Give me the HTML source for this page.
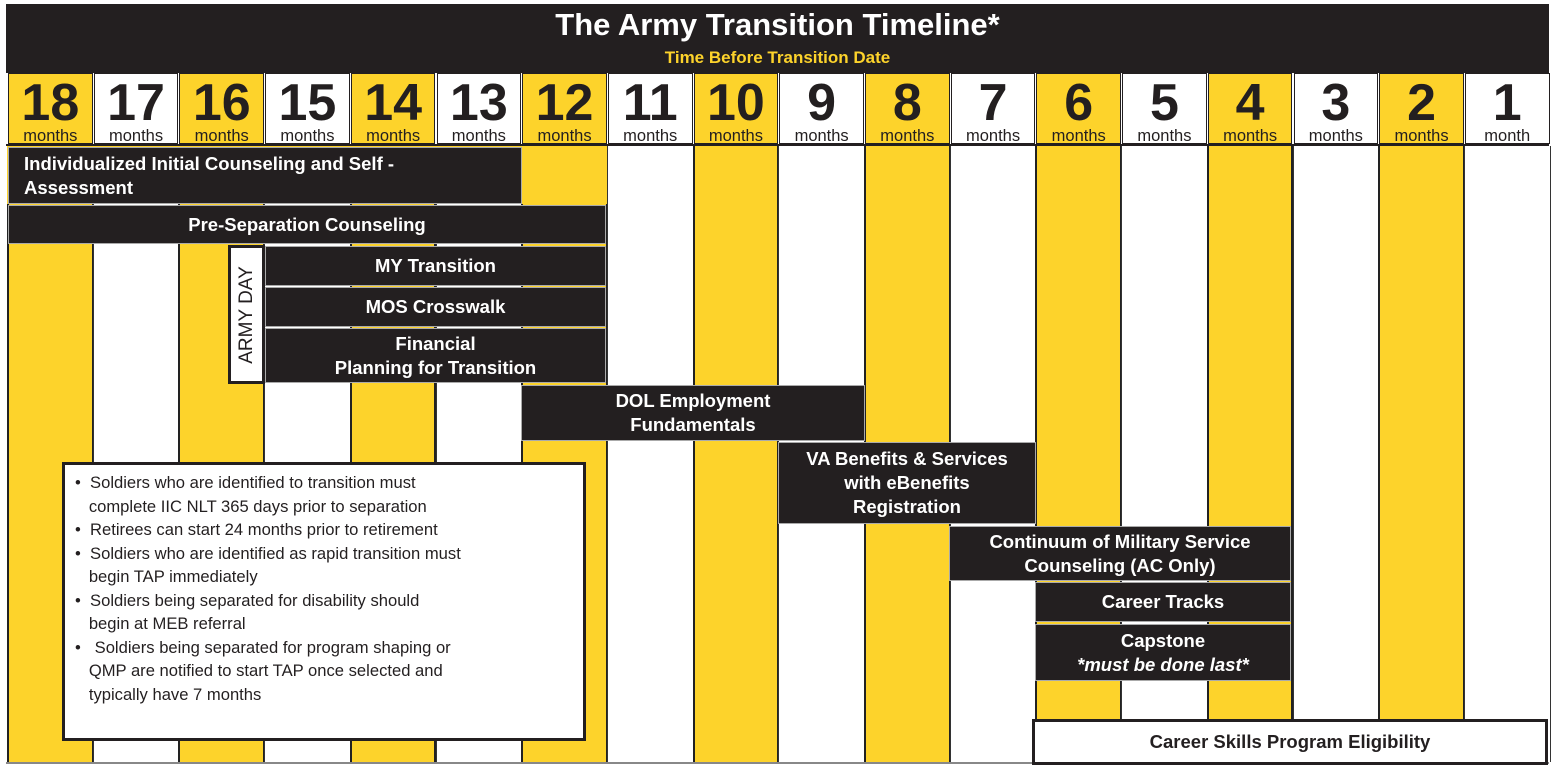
<!DOCTYPE html>
<html><head><meta charset="utf-8"><style>
body{margin:0;width:1559px;height:771px;background:#fff;position:relative;overflow:hidden;font-family:"Liberation Sans",sans-serif}
.a{position:absolute;box-sizing:border-box}
.col{position:absolute;top:146px;height:616px;box-sizing:border-box;border-left:1px solid #333;border-right:1px solid #333}
.y{background:#fdd32b;border-left:2px solid #222;border-right:2px solid #222}
.hc{position:absolute;top:73px;height:71px;box-sizing:border-box;text-align:center;color:#231f20;border:1px solid #231f20}
.hc b{display:block;font-size:52px;line-height:52px;margin-top:3px;font-weight:bold}
.hc span{display:block;font-size:16.5px;line-height:14px}
.bar{position:absolute;box-sizing:border-box;background:#231f20;color:#fff;font-weight:bold;font-size:18.5px;display:flex;align-items:center;justify-content:center;text-align:center;line-height:24px;border:1px solid #aaa}
</style></head><body>
<div class="a" style="left:6px;top:4px;width:1543px;height:69px;background:#231f20"></div>
<div class="a" style="left:6px;top:7px;width:1543px;text-align:center;color:#fff;font-weight:bold;font-size:31px">The Army Transition Timeline*</div>
<div class="a" style="left:6px;top:48px;width:1543px;text-align:center;color:#fdd32b;font-weight:bold;font-size:17px">Time Before Transition Date</div>
<div id="cols"></div>
<script>
var h='',w=85.7,x0=7;
for(var i=0;i<18;i++){var m=18-i,l=x0+i*w,y=(i%2==0);
h+='<div class="col'+(y?' y':'')+'" style="left:'+l+'px;width:'+(w+1)+'px"></div>';
h+='<div class="hc" style="left:'+(l+1)+'px;width:'+(w-1)+'px;background:'+(y?'#fdd32b':'#fff')+'"><b>'+m+'</b><span>'+(m==1?'month':'months')+'</span></div>';}
document.getElementById('cols').innerHTML=h;
</script>
<div class="a" style="left:6px;top:144px;width:1543px;height:2px;background:#231f20"></div>
<div class="a" style="left:6px;top:762px;width:1543px;height:2px;background:#888"></div>
<div class="a" style="left:7px;top:146px;width:600px;height:58px;background:#fdd32b"></div>
<div class="bar" style="left:8px;top:147px;width:514px;height:57px;justify-content:flex-start;text-align:left;padding-left:15px"><div>Individualized Initial Counseling and Self -<br>Assessment</div></div>
<div class="bar" style="left:8px;top:205px;width:598px;height:39px"><div>Pre-Separation Counseling</div></div>
<div class="a" style="left:228px;top:245px;width:37px;height:139px;background:#fff;border:3px solid #231f20"></div>
<div class="a" style="left:228px;top:245px;width:37px;height:139px;display:flex;align-items:center;justify-content:center"><div style="transform:rotate(-90deg);white-space:nowrap;font-size:19px;color:#231f20">ARMY DAY</div></div>
<div class="bar" style="left:265px;top:246px;width:341px;height:40px"><div>MY Transition</div></div>
<div class="bar" style="left:265px;top:287px;width:341px;height:40px"><div>MOS Crosswalk</div></div>
<div class="bar" style="left:265px;top:328px;width:341px;height:55px"><div>Financial<br>Planning for Transition</div></div>
<div class="bar" style="left:521px;top:385px;width:344px;height:56px"><div>DOL Employment<br>Fundamentals</div></div>
<div class="bar" style="left:778px;top:442px;width:258px;height:82px"><div>VA Benefits &amp; Services<br>with eBenefits<br>Registration</div></div>
<div class="bar" style="left:949px;top:526px;width:342px;height:55px"><div>Continuum of Military Service<br>Counseling (AC Only)</div></div>
<div class="bar" style="left:1035px;top:582px;width:256px;height:40px"><div>Career Tracks</div></div>
<div class="bar" style="left:1035px;top:624px;width:256px;height:57px"><div>Capstone<br><i>*must be done last*</i></div></div>
<div class="a" style="left:1032px;top:719px;width:516px;height:46px;background:#fff;border:3px solid #231f20;display:flex;align-items:center;justify-content:center;font-weight:bold;font-size:18.5px;color:#231f20">Career Skills Program Eligibility</div>
<div class="a" style="left:62px;top:462px;width:524px;height:279px;background:#fff;border:3px solid #231f20;padding:6px 8px 0 10px;font-size:16.6px;line-height:23.5px;color:#231f20">
<div>•&nbsp; Soldiers who are identified to transition must<br>&nbsp;&nbsp;&nbsp;complete IIC NLT 365 days prior to separation</div>
<div>•&nbsp; Retirees can start 24 months prior to retirement</div>
<div>•&nbsp; Soldiers who are identified as rapid transition must<br>&nbsp;&nbsp;&nbsp;begin TAP immediately</div>
<div>•&nbsp; Soldiers being separated for disability should<br>&nbsp;&nbsp;&nbsp;begin at MEB referral</div>
<div>•&nbsp;&nbsp; Soldiers being separated for program shaping or<br>&nbsp;&nbsp;&nbsp;QMP are notified to start TAP once selected and<br>&nbsp;&nbsp;&nbsp;typically have 7 months</div>
</div>
</body></html>
